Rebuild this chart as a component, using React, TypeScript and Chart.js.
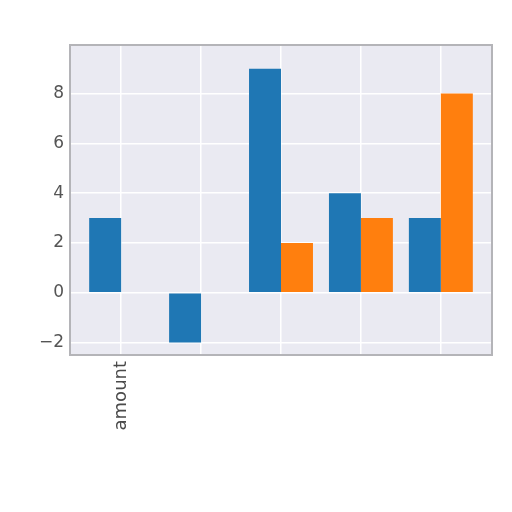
import { useRef, useEffect } from 'react';
import { Chart, registerables } from 'chart.js';

Chart.register(...registerables);

// data
const categories = ['amount', '', '', '', ''];
const blueValues = [3, -2, 9, 4, 3];
const orangeValues = [null, null, 2, 3, 8];
const yTicks = [-2, 0, 2, 4, 6, 8];

const plotBackground = {
  id: 'plotBackground',
  beforeDraw(chart: Chart) {
    const { ctx, chartArea } = chart;
    ctx.save();
    ctx.fillStyle = '#eaeaf2';
    ctx.fillRect(chartArea.left, chartArea.top, chartArea.width, chartArea.height);
    ctx.restore();
  },
  afterDraw(chart: Chart) {
    const { ctx, chartArea } = chart;
    ctx.save();
    ctx.strokeStyle = '#b4b4b8';
    ctx.lineWidth = 2;
    ctx.strokeRect(chartArea.left, chartArea.top, chartArea.width, chartArea.height);
    ctx.restore();
  }
};

export default function App() {
  const canvasRef = useRef<HTMLCanvasElement>(null);

  useEffect(() => {
    if (!canvasRef.current) return;
    const toPoints = (vals: (number | null)[]) =>
      vals.map((v, i) => ({ x: i, y: v }));

    const chart = new Chart(canvasRef.current, {
      type: 'bar',
      data: {
        datasets: [
          {
            data: toPoints(blueValues) as any,
            backgroundColor: '#1f77b4',
            categoryPercentage: 0.8,
            barPercentage: 1
          },
          {
            data: toPoints(orangeValues) as any,
            backgroundColor: '#ff7f0e',
            categoryPercentage: 0.8,
            barPercentage: 1
          }
        ]
      },
      options: {
        animation: false,
        responsive: false,
        layout: { padding: { top: 45, right: 20, left: 0, bottom: 0 } },
        plugins: { legend: { display: false }, tooltip: { enabled: false } },
        scales: {
          x: {
            type: 'linear',
            offset: false,
            min: -0.64,
            max: 4.64,
            afterBuildTicks: (axis: any) => {
              axis.ticks = categories.map((_, i) => ({ value: i }));
            },
            afterFit: (axis: any) => {
              axis.height = 157;
            },
            grid: { color: '#ffffff', lineWidth: 1.5, drawTicks: false, offset: false },
            border: { display: false },
            ticks: {
              autoSkip: false,
              minRotation: 90,
              maxRotation: 90,
              padding: 6,
              color: '#4a4a4a',
              font: { family: 'DejaVu Sans', size: 18 },
              callback: (v: any) => categories[Math.round(Number(v))] ?? ''
            }
          },
          y: {
            min: -2.5,
            max: 9.95,
            afterBuildTicks: (axis: any) => {
              axis.ticks = yTicks.map((v) => ({ value: v }));
            },
            afterFit: (axis: any) => {
              axis.width = 70;
            },
            grid: { color: '#ffffff', lineWidth: 1.5, drawTicks: false },
            border: { display: false },
            ticks: {
              padding: 6,
              color: '#555555',
              font: { family: 'DejaVu Sans', size: 17 },
              callback: (v: any) => (Number(v) < 0 ? '\u2212' + Math.abs(Number(v)) : String(v))
            }
          }
        }
      },
      plugins: [plotBackground]
    });

    return () => chart.destroy();
  }, []);

  return (
    <div style={{ width: 512, height: 512, margin: -8, background: '#ffffff' }}>
      <canvas ref={canvasRef} width={512} height={512} />
    </div>
  );
}
